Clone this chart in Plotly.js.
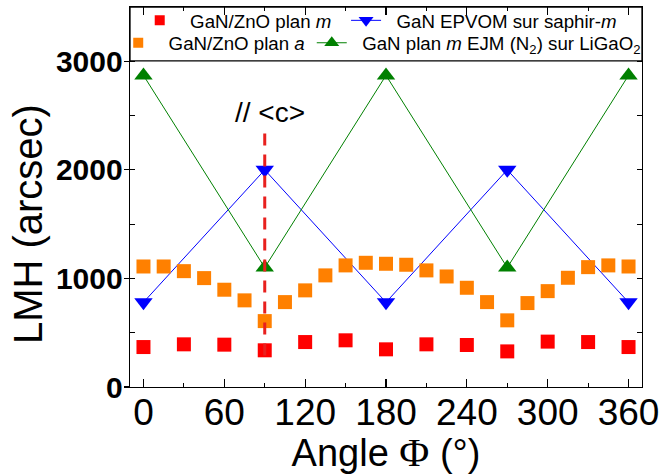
<!DOCTYPE html>
<html>
<head>
<meta charset="utf-8">
<script src="https://cdn.plot.ly/plotly-3.0.1.min.js"></script>
<style>html,body{margin:0;padding:0;background:#fff;}#chart{width:659px;height:475px;}</style>
</head>
<body>
<div id="chart"></div>
<script>
// ---- data ----
const anglesA = [0,15,30,45,60,75,90,105,120,135,150,165,180,195,210,225,240,255,270,285,300,315,330,345,360];
const planA = [1110,1110,1067,1003,896,798,607,782,890,1028,1120,1144,1135,1126,1074,1018,914,782,614,773,883,1006,1104,1120,1110];
const anglesM = [0,30,60,90,120,150,180,210,240,270,300,330,360];
const planM = [368,393,390,338,414,430,347,393,387,328,418,414,368];
const anglesEPVOM = [0,90,180,270,360];
const epvom = [780,2000,780,2000,780];
const anglesEJM = [0,90,180,270,360];
const ejm = [2870,1100,2870,1100,2870];
const cAxisX = [90,90];
const cAxisY = [2335,225];
const xTicks = [0,60,120,180,240,300,360];
const yTicks = [0,1000,2000,3000];
const seriesNames = ['GaN/ZnO plan <i>m</i>', 'GaN EPVOM sur saphir-<i>m</i>',
  'GaN/ZnO plan <i>a</i>', 'GaN plan <i>m</i> EJM (N<sub>2</sub>) sur LiGaO<sub>2</sub>'];

const FONT = 'Liberation Sans, Arial, Helvetica, sans-serif';
const NB = '\u00a0\u00a0';

const traces = [
  // data series
  {x: anglesM, y: planM, type:'scatter', mode:'markers', showlegend:false,
   marker:{symbol:'square', size:14, color:'#ff0000'}},
  {x: anglesEPVOM, y: epvom, type:'scatter', mode:'lines+markers', showlegend:false,
   line:{color:'#0000ff', width:1}, marker:{symbol:'triangle-down', size:16, color:'#0000ff'}},
  {x: anglesA, y: planA, type:'scatter', mode:'markers', showlegend:false,
   marker:{symbol:'square', size:14, color:'#ff8000'}},
  {x: anglesEJM, y: ejm, type:'scatter', mode:'lines+markers', showlegend:false,
   line:{color:'#008000', width:1}, marker:{symbol:'triangle-up', size:16, color:'#008000'}},
  {x: cAxisX, y: cAxisY, type:'scatter', mode:'lines', showlegend:false,
   line:{color:'#e8201e', width:3, dash:'12px,9px'}},
  // legend entries (no data points)
  {x:[null], y:[null], type:'scatter', mode:'markers', name: NB+seriesNames[0],
   marker:{symbol:'square', size:10, color:'#ff0000'}, legend:'legend'},
  {x:[null], y:[null], type:'scatter', mode:'lines+markers', name: NB+seriesNames[1],
   line:{color:'#0000ff', width:1}, marker:{symbol:'triangle-down', size:13, color:'#0000ff'}, legend:'legend2'},
  {x:[null], y:[null], type:'scatter', mode:'markers', name: NB+seriesNames[2],
   marker:{symbol:'square', size:10, color:'#ff8000'}, legend:'legend3'},
  {x:[null], y:[null], type:'scatter', mode:'lines+markers', name: NB+seriesNames[3],
   line:{color:'#008000', width:1}, marker:{symbol:'triangle-up', size:13, color:'#008000'}, legend:'legend4'},
  {x: [null], y: [null], type:'scatter', mode:'markers', yaxis:'y2', showlegend:false, hoverinfo:'skip'}
];

const legBase = {bgcolor:'rgba(0,0,0,0)', borderwidth:0, font:{family:FONT, size:18.7, color:'#000'},
  xanchor:'left', yanchor:'middle'};

const layout = {
  width:659, height:475,
  margin:{l:130, r:17, t:7, b:88, autoexpand:false},
  paper_bgcolor:'#fff', plot_bgcolor:'#fff',
  font:{family:FONT, color:'#000'},
  showlegend:true,
  legend: Object.assign({}, legBase, {x:0.019, y:0.964}),
  legend2: Object.assign({}, legBase, {x:0.422, y:0.964}),
  legend3: Object.assign({}, legBase, {x:-0.023, y:0.905}),
  legend4: Object.assign({}, legBase, {x:0.355, y:0.905}),
  xaxis:{
    range:[-10,370], tickvals:xTicks, ticktext:xTicks.map(String),
    ticks:'inside', ticklen:8, tickwidth:1.2, tickcolor:'#000',
    minor:{dtick:30, tick0:0, ticks:'inside', ticklen:4, tickwidth:1, tickcolor:'#000'},
    showline:true, linecolor:'#000', linewidth:1.3, mirror:'ticks',
    showgrid:false, zeroline:false, ticklabeloverflow:'allow', ticklabelstandoff:-8,
    tickfont:{family:FONT, size:37, color:'#000'},
    title:{text:'Angle\u00a0<span style="font-family:Liberation Serif, Times New Roman, serif;font-size:41px">Φ</span>\u00a0(°)', font:{family:FONT, size:38, color:'#000'}, standoff:8}
  },
  yaxis:{
    range:[0,3500], tickvals:yTicks, ticktext:yTicks.map(String),
    ticks:'inside', ticklen:5, tickwidth:1.2, tickcolor:'#000',
    minor:{dtick:500, tick0:0, ticks:'inside', ticklen:5, tickwidth:1, tickcolor:'#000'},
    showline:true, linecolor:'#000', linewidth:1.3, mirror:'ticks',
    showgrid:false, zeroline:false,
    tickfont:{family:FONT, size:30, color:'#000', weight:'bold'}
  },
  yaxis2:{
    overlaying:'y', side:'left', range:[0,3500], tickvals:yTicks, showticklabels:false,
    ticks:'outside', ticklen:5, tickwidth:1.2, tickcolor:'#000',
    showline:false, showgrid:false, zeroline:false
  },
  shapes:[
    {type:'rect', xref:'paper', yref:'paper', x0:0, x1:1, y0:0.858, y1:1,
     line:{color:'#000', width:1.3}, fillcolor:'rgba(255,255,255,1)', layer:'below'}
  ],
  annotations:[
    {x:94, y:2528, xref:'x', yref:'y', text:'// &lt;c&gt;', showarrow:false,
     font:{family:FONT, size:28, color:'#000'}},
    {x:-0.199, y:0.429, xref:'paper', yref:'paper', text:'LMH (arcsec)', textangle:-90,
     showarrow:false, xanchor:'center', yanchor:'middle',
     font:{family:FONT, size:40, color:'#000'}}
  ]
};

Plotly.newPlot('chart', traces, layout, {displayModeBar:false, staticPlot:true});
</script>
</body>
</html>
